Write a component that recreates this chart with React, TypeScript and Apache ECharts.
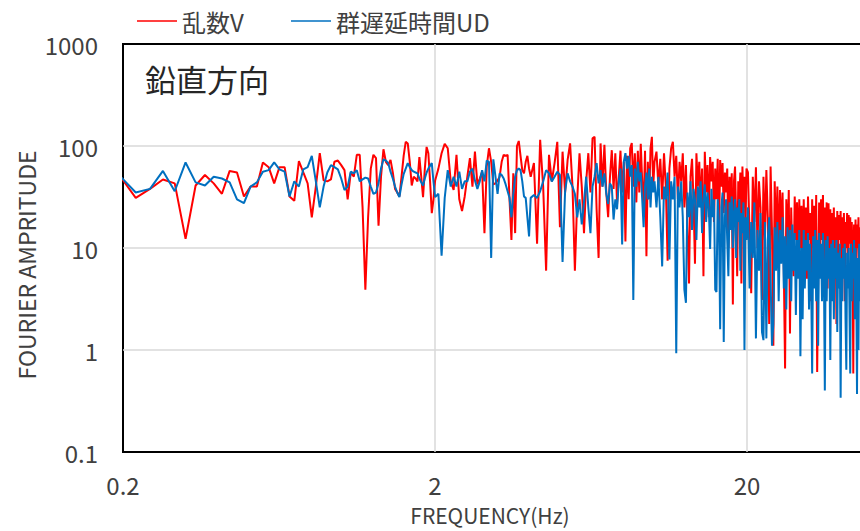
import React, { useEffect, useRef } from "react";
import * as echarts from "echarts";

const DF = 100 / 4096;
const SEG_START = [8, 84, 166, 414, 825];
const SEG_STEP = [1, 2, 4, 6, 10];

// 乱数V — Fourier amplitudes per band
const redLow = [
  51, 31, 38, 47, 43, 12.3, 41, 52, 43, 34,
  57, 55, 32, 40, 40, 69, 62, 43, 62, 62,
  32, 29, 71, 55, 43, 20, 40, 85, 46, 45,
  47, 70, 72, 65, 58, 30, 55, 50, 82, 82,
  25, 3.9, 20, 60, 82, 76, 16.5, 50, 93, 70,
  65, 73, 55, 38, 35, 32, 50, 80, 110, 106,
  70, 41, 50, 48, 45, 78, 50, 31.5, 60, 98,
  85, 45, 22, 30, 46,
];
const redB = [
  60, 85, 105, 95, 45, 37, 82, 30, 23, 32,
  50, 76, 40, 88, 42, 48, 56, 14, 63, 95,
  70, 42, 43, 46, 50, 70, 82, 80, 82, 30,
  12, 54, 14, 100, 112, 80, 58, 54, 70, 80,
  60,
];
const redC = [
  50, 68, 11, 115, 40, 6, 82, 45, 68, 110,
  16, 88, 35, 73, 106, 40, 6, 30, 85, 40,
  14, 45, 85, 35, 119, 123, 24, 8, 106, 40,
  103, 35, 20, 50, 91, 38, 85, 27, 50, 90,
  35, 70, 11.6, 80, 30, 95, 107, 40, 85, 28,
  90, 35, 105, 45, 25, 90, 8.3, 70, 30, 95,
  123, 40,
];
const redD = [
  70, 88, 40, 75, 30, 85, 40, 7.5, 60, 95,
  110, 50, 80, 30, 70, 45, 85, 25, 65, 15,
  4.5, 50, 75, 30, 7, 85, 40, 70, 25, 60,
  5.3, 88, 35, 65, 20, 78, 45, 70, 18, 60,
  30, 75, 12, 73, 40, 68, 22, 55, 35, 60,
  10, 50, 25, 54, 2.8, 45, 63, 20, 5.3, 45,
  30, 55, 4.5, 63, 25, 50, 15, 60,
];
const redE = [
  55, 14, 3.6, 50, 18, 62, 10, 45, 25, 3.1,
  50, 12, 58, 20, 1.8, 63, 15, 1.1, 45, 12,
  40, 8, 37, 14, 35, 6, 0.66, 30, 10, 37,
  1.45, 25, 8, 5.3, 32, 12, 28, 6, 30, 10,
  26, 4, 30, 9, 25, 5, 32, 12, 22, 3,
  30, 10, 26, 5, 33, 0.61, 4.9, 28, 8, 30,
  12, 33, 6, 25, 9, 28, 4, 27.5, 10, 24,
  6, 22, 11, 25, 5, 20, 1.8, 23, 8, 21,
  12, 23, 5, 20, 9, 22, 3, 18, 10, 22,
  7, 21, 11, 20, 4, 18, 9, 0.59, 17, 8,
  19, 6, 17, 10, 20, 4, 16,
];

// 群遅延時間UD — Fourier amplitudes per band
const blueLow = [
  51, 35, 38, 57, 36, 69, 44, 41, 50, 48,
  44, 30, 27.5, 40, 44, 56, 58, 69, 59, 56,
  32, 45, 40, 59, 62, 80, 45, 25, 40, 55,
  65, 62, 59, 48, 37, 40, 56, 54, 58, 45,
  47, 49, 48, 40, 34, 35, 43, 60, 74, 72,
  68, 56, 48, 40, 35, 31.5, 42, 53, 60, 68,
  62, 58, 56, 55, 54, 48, 44, 41, 48, 55,
  60, 64, 68, 45, 31.5,
];
const blueB = [
  34, 8.4, 31, 58, 40, 50, 40, 56, 38, 45,
  45, 56, 60, 46, 38, 45, 58, 45, 72, 70,
  8, 74, 50, 34, 54, 52, 48, 42, 36, 31,
  20, 34, 50, 58, 60, 58, 45, 32, 31, 20,
  13,
];
const blueC = [
  31, 33, 31, 36, 45, 58, 54, 45, 50, 56,
  52, 7.3, 36, 54, 45, 40, 34, 20, 30, 17,
  28, 50, 25, 14, 40, 50, 68, 43, 58, 40,
  54, 34, 27, 43, 40, 19, 30, 24, 45, 60,
  10.8, 70, 85, 60, 80, 50, 65, 3.1, 60, 40,
  70, 45, 55, 30, 16, 40, 55, 30, 60, 25,
  50, 35,
];
const blueD = [
  45, 25, 50, 20, 6.6, 40, 30, 55, 7.7, 45,
  30, 50, 0.93, 40, 25, 45, 20, 3.9, 2.9, 35,
  20, 45, 15, 38, 30, 12, 40, 25, 45, 14,
  30, 42, 18, 35, 25, 9.8, 38, 20, 30, 3.9,
  3.7, 30, 18, 1.6, 25, 35, 1.2, 20, 30, 12,
  5.3, 28, 15, 32, 10, 22, 30, 8, 25, 18,
  30, 6, 22, 14, 28, 1.0, 20, 12,
];
const blueE = [
  25, 4, 18, 8, 28, 1.3, 15, 6, 22, 1.5,
  1.25, 18, 1.3, 12, 20, 5, 1.1, 1.8, 16, 6,
  18, 3, 15, 7, 20, 4, 13, 2.5, 16, 5,
  15, 3, 17, 6, 14, 2.2, 12, 5, 15, 0.87,
  10, 2.0, 15, 4, 12, 6, 14, 2.5, 11, 5,
  0.59, 13, 4, 15, 3, 12, 1.1, 14, 5, 11,
  3, 14, 6, 0.4, 12, 3, 13, 5, 10, 0.8,
  11, 3, 12, 2, 10, 5, 12, 1.5, 9, 4,
  11, 0.34, 8, 3, 10, 5, 11, 2, 0.64, 9,
  4, 10, 2.5, 0.59, 11, 3, 9, 5, 12, 2,
  10, 4, 0.37, 8, 1.0, 11, 3,
];

const RED_SEGS = [redLow, redB, redC, redD, redE];
const BLUE_SEGS = [blueLow, blueB, blueC, blueD, blueE];

const X_MIN_HZ = 0.2;
const X_TICK_LABELS = ["0.2", "2", "20"];
const SERIES_NAMES = ["乱数V", "群遅延時間UD"];
const TITLE = "鉛直方向";
const X_NAME = "FREQUENCY(Hz)";
const Y_NAME = "FOURIER AMPRITUDE";

const FONT = '"Noto Sans CJK JP", "Noto Sans", sans-serif';
const RED = "#FF0000";
const BLUE = "#0070C0";
const TEXT = "#404040";

function toPoints(segs: number[][]): number[][] {
  const pts: number[][] = [];
  segs.forEach((vals, s) => {
    vals.forEach((v, i) => {
      const f = (SEG_START[s] + i * SEG_STEP[s]) * DF;
      pts.push([Math.log10(f / X_MIN_HZ), v]);
    });
  });
  return pts;
}

export default function App() {
  const ref = useRef<HTMLDivElement>(null);

  useEffect(() => {
    if (!ref.current) return;
    const chart = echarts.init(ref.current, undefined, { renderer: "svg" });
    const legendBase = {
      top: 9,
      padding: 0,
      icon: "rect",
      itemWidth: 40,
      itemHeight: 1.5,
      selectedMode: false,
      textStyle: { fontSize: 24, color: TEXT, fontFamily: FONT },
    };
    chart.setOption({
      animation: false,
      textStyle: { fontFamily: FONT },
      grid: {
        left: 123,
        top: 44,
        width: 936,
        height: 408,
        containLabel: false,
        outerBoundsMode: "none",
        show: true,
        borderColor: "#000",
        borderWidth: 2,
        backgroundColor: "transparent",
      },
      legend: [
        { ...legendBase, left: 137, data: [SERIES_NAMES[0]] },
        { ...legendBase, left: 291, data: [SERIES_NAMES[1]] },
      ],
      xAxis: {
        type: "value",
        min: 0,
        max: 3,
        interval: 1,
        axisLine: { show: false },
        axisTick: { show: false },
        splitLine: {
          show: true,
          showMinLine: false,
          showMaxLine: false,
          lineStyle: { color: "#d9d9d9", width: 1.5 },
        },
        axisLabel: {
          formatter: (v: number) => X_TICK_LABELS[Math.round(v)] ?? "",
          fontSize: 24,
          color: TEXT,
          margin: 19,
          lineHeight: 26,
          fontFamily: FONT,
        },
      },
      yAxis: {
        type: "log",
        logBase: 10,
        min: 0.1,
        max: 1000,
        axisLine: { show: false },
        axisTick: { show: false },
        splitLine: {
          show: true,
          showMinLine: false,
          showMaxLine: false,
          lineStyle: { color: "#d9d9d9", width: 1.5 },
        },
        axisLabel: {
          formatter: (v: number) => String(parseFloat(Number(v).toPrecision(2))),
          fontSize: 24,
          color: TEXT,
          margin: 25,
          fontFamily: FONT,
        },
      },
      series: [
        {
          name: SERIES_NAMES[0],
          type: "line",
          data: toPoints(RED_SEGS),
          showSymbol: false,
          symbol: "none",
          lineStyle: { color: RED, width: 2 },
          itemStyle: { color: RED },
        },
        {
          name: SERIES_NAMES[1],
          type: "line",
          data: toPoints(BLUE_SEGS),
          showSymbol: false,
          symbol: "none",
          lineStyle: { color: BLUE, width: 2 },
          itemStyle: { color: BLUE },
        },
      ],
      graphic: [
        {
          type: "text",
          x: 145,
          y: 78,
          style: {
            text: TITLE,
            fontSize: 31,
            fill: "#262626",
            fontFamily: FONT,
            verticalAlign: "middle",
            align: "left",
          },
        },
        {
          type: "text",
          x: 490,
          y: 515,
          style: {
            text: X_NAME,
            fontSize: 21,
            lineHeight: 22,
            fill: TEXT,
            fontFamily: FONT,
            verticalAlign: "middle",
            align: "center",
          },
        },
        {
          type: "text",
          x: 26,
          y: 265,
          rotation: Math.PI / 2,
          style: {
            text: Y_NAME,
            fontSize: 23,
            fill: TEXT,
            fontFamily: FONT,
            verticalAlign: "middle",
            align: "center",
          },
        },
      ],
    });
    return () => chart.dispose();
  }, []);

  return (
    <div
      ref={ref}
      style={{ position: "fixed", left: 0, top: 0, width: 860, height: 531, background: "#fff" }}
    />
  );
}
